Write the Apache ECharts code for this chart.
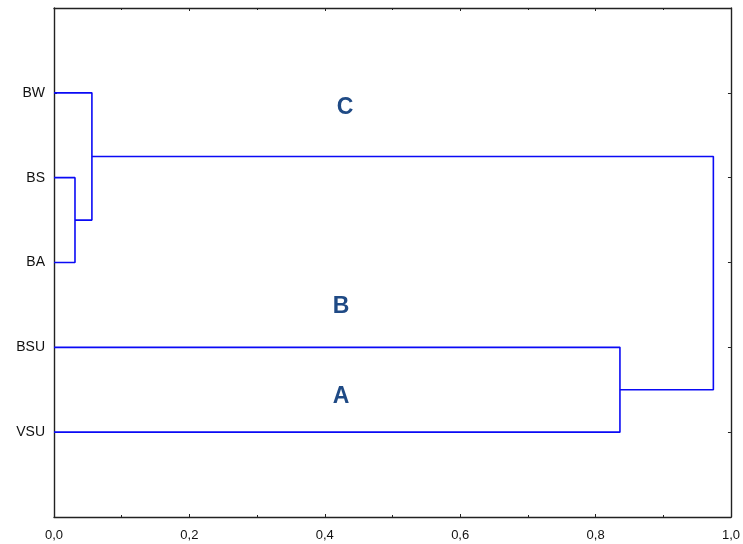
<!DOCTYPE html>
<html>
<head>
<meta charset="utf-8">
<script src="https://cdn.jsdelivr.net/npm/echarts@6/dist/echarts.min.js"></script>
<style>html,body{margin:0;padding:0;background:#fff}#c{width:743px;height:544px}</style>
</head>
<body>
<div id="c"></div>
<script>
// Leaves from top to bottom
const leaves = ['BW', 'BS', 'BA', 'BSU', 'VSU'];
// Merges: children refer to leaf index (number) or previous merge ('m' + index)
const mergeLeft = [1, 0, 3, 'm1'];
const mergeRight = [2, 'm0', 4, 'm2'];
const mergeHeights = [0.031, 0.056, 0.836, 0.974];
// Cluster annotation labels
const clusterNames = ['C', 'B', 'A'];
const clusterX = [0.430, 0.424, 0.424];
const clusterY = [1.18, 3.52, 4.58];
const xTicks = [0, 0.2, 0.4, 0.6, 0.8, 1.0];

const nodes = {};
function nodeOf(c) {
  if (typeof c === 'number') return { h: 0, y: c + 1 };
  return nodes[c];
}
const series = [];
for (let i = 0; i < mergeHeights.length; i++) {
  const a = nodeOf(mergeLeft[i]);
  const b = nodeOf(mergeRight[i]);
  const h = mergeHeights[i];
  nodes['m' + i] = { h: h, y: (a.y + b.y) / 2 };
  series.push({
    type: 'line',
    data: [[a.h, a.y], [h, a.y], [h, b.y], [b.h, b.y]],
    showSymbol: false,
    symbol: 'none',
    silent: true,
    animation: false,
    z: 3,
    lineStyle: { color: '#0A0AF5', width: 1.6 }
  });
}
series.push({
  type: 'scatter',
  symbolSize: 0,
  silent: true,
  animation: false,
  itemStyle: { opacity: 1 },
  data: clusterNames.map((n, i) => ({ value: [clusterX[i], clusterY[i]], name: n })),
  label: {
    show: true,
    position: 'inside',
    opacity: 1,
    formatter: p => p.name,
    fontFamily: 'Liberation Sans',
    fontWeight: 'bold',
    fontSize: 23,
    color: '#1F4A85'
  }
});

const axisLine = { show: true, onZero: false, lineStyle: { color: '#222', width: 1.4 } };
const tick = { show: true, inside: true, length: 3, lineStyle: { color: '#222', width: 1 } };
const chart = echarts.init(document.getElementById('c'));
chart.setOption({
  backgroundColor: '#fff',
  animation: false,
  grid: { left: 54, right: 10, top: 8, bottom: 27, containLabel: false },
  xAxis: [{
    type: 'value', min: 0, max: 1, interval: 0.2, position: 'bottom',
    axisLine: axisLine,
    axisTick: tick,
    minorTick: { show: true, splitNumber: 2, length: 2, lineStyle: { color: '#222' } },
    splitLine: { show: false },
    axisLabel: {
      color: '#111', fontFamily: 'Liberation Sans', fontSize: 13, margin: 12,
      formatter: v => xTicks.indexOf(Math.round(v * 10) / 10) >= 0 ? v.toFixed(1).replace('.', ',') : ''
    }
  }, {
    type: 'value', min: 0, max: 1, interval: 0.2, position: 'top',
    axisLine: axisLine,
    axisTick: tick,
    minorTick: { show: true, splitNumber: 2, length: 2, lineStyle: { color: '#222' } },
    splitLine: { show: false },
    axisLabel: { show: false }
  }],
  yAxis: [{
    type: 'value', min: 0, max: 6, interval: 1, inverse: true, position: 'left',
    axisLine: axisLine,
    axisTick: tick,
    splitLine: { show: false },
    axisLabel: {
      color: '#111', fontFamily: 'Liberation Sans', fontSize: 14, margin: 9,
      formatter: v => (v >= 1 && v <= leaves.length) ? leaves[v - 1] : ''
    }
  }, {
    type: 'value', min: 0, max: 6, interval: 1, inverse: true, position: 'right',
    axisLine: axisLine,
    axisTick: tick,
    splitLine: { show: false },
    axisLabel: { show: false }
  }],
  series: series
});
</script>
</body>
</html>
